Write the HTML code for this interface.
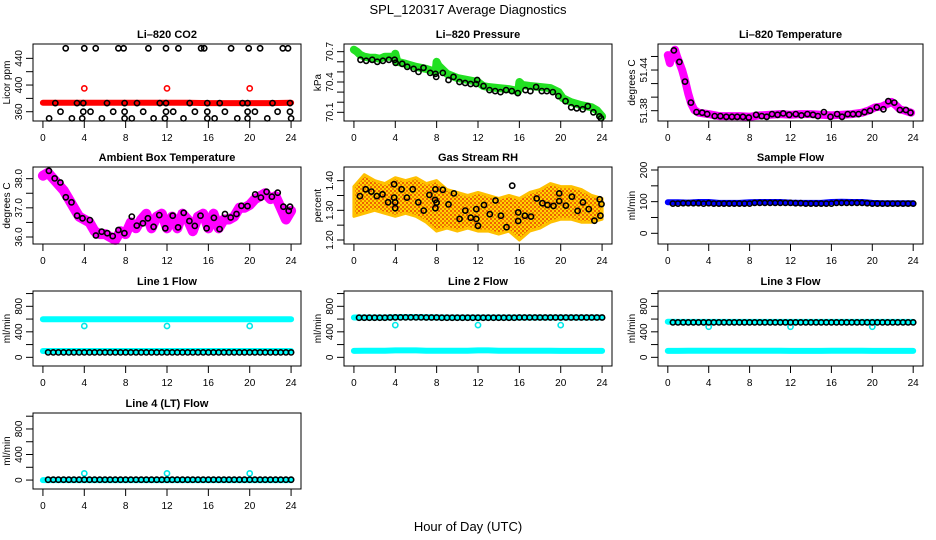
<!DOCTYPE html>
<html><head><meta charset="utf-8"><title>SPL_120317 Average Diagnostics</title>
<style>
html,body{margin:0;padding:0;background:#fff;}
svg{display:block;font-family:"Liberation Sans",sans-serif;}
</style></head>
<body>
<svg id="chart" width="936" height="540" viewBox="0 0 936 540" xmlns="http://www.w3.org/2000/svg">
<defs>
<pattern id="rhpat" width="4" height="4" patternUnits="userSpaceOnUse">
<rect width="4" height="4" fill="#ffd400"/>
<rect x="0" y="0" width="2" height="2" fill="#f08000"/>
<rect x="2" y="2" width="2" height="2" fill="#f06000"/>
</pattern>
</defs>
<text x="468" y="14" text-anchor="middle" font-size="13">SPL_120317  Average Diagnostics</text>
<text x="468" y="531" text-anchor="middle" font-size="13">Hour of Day (UTC)</text>
</svg>
<script>
// ---- data ----
const xTickVals=[0,4,8,12,16,20,24];
const halfT=[0.5,1,1.5,2,2.5,3,3.5,4,4.5,5,5.5,6,6.5,7,7.5,8,8.5,9,9.5,10,10.5,11,11.5,12,12.5,13,13.5,14,14.5,15,15.5,16,16.5,17,17.5,18,18.5,19,19.5,20,20.5,21,21.5,22,22.5,23,23.5,24];
const hourT=[0,1,2,3,4,5,6,7,8,9,10,11,12,13,14,15,16,17,18,19,20,21,22,23,24];
const outT=[4,12,20];

// CO2
const co2RedT=[0,2,4,6,8,10,12,14,16,18,20,22,24];
const co2RedV=[373.5,373.5,373.5,373.5,373.5,373.5,373.5,373.5,373,373,373,373,373.5];
const co2RedOutV=[395,395,395];
const co2BlkT=[2.2,4.0,5.1,7.3,7.8,10.2,11.9,13.1,15.3,15.6,18.2,19.9,21.0,23.2,23.7,
1.2,3.3,3.9,6.2,7.9,9.1,11.3,11.9,14.2,15.9,17.1,19.3,19.8,22.2,23.9,
1.7,3.9,4.6,6.8,7.9,9.7,11.9,12.6,14.7,15.9,17.6,19.8,20.5,22.7,23.9,
0.6,2.8,3.8,5.7,7.9,8.6,10.7,11.8,13.6,15.9,16.6,18.8,19.8,21.7,24.0];
const co2BlkV=[455,455,455,455,455,455,455,455,455,455,455,455,455,455,455,
373,373,373,373,373,373,373,373,373,373,373,373,373,373,373,
360,360,360,360,360,360,360,360,360,360,360,360,360,360,360,
350,350,350,350,350,350,350,350,350,350,350,350,350,350,350];

// Pressure
const pressT=[0,0.3,0.6,1,1.5,2,2.5,3,3.5,3.9,4.0,4.2,5,6,7,7.9,8.0,8.2,9,10,11,12,12.5,13,14,15,15.9,16.0,16.3,17,18,19,19.8,20.2,21,22,23,23.5,24];
const pressG=[70.72,70.70,70.67,70.65,70.64,70.64,70.63,70.65,70.65,70.64,70.68,70.60,70.58,70.55,70.53,70.50,70.60,70.56,70.48,70.44,70.42,70.40,70.36,70.35,70.34,70.33,70.31,70.40,70.37,70.36,70.35,70.34,70.30,70.24,70.20,70.17,70.15,70.12,70.06];
const pressBlkT=[0.64,1.19,1.77,2.26,2.80,3.38,3.93,4.03,4.67,5.15,5.77,6.25,6.73,7.38,7.89,7.96,8.60,9.15,9.63,10.21,10.76,11.28,11.82,11.92,12.53,13.11,13.66,14.18,14.72,15.27,15.85,16.59,17.07,17.62,18.17,18.65,19.23,19.78,20.46,21.01,21.55,22.13,22.62,23.16,23.74,23.90];
const pressBlkV=[70.62,70.61,70.62,70.60,70.61,70.62,70.62,70.59,70.58,70.55,70.53,70.50,70.54,70.49,70.48,70.45,70.49,70.42,70.45,70.40,70.39,70.38,70.38,70.42,70.36,70.32,70.31,70.30,70.32,70.31,70.29,70.32,70.31,70.35,70.31,70.31,70.30,70.26,70.21,70.15,70.14,70.13,70.16,70.10,70.06,70.04];

// Li-820 temperature
const tempT=[0,0.2,0.4,0.7,0.9,1.1,1.4,1.7,2.0,2.3,2.6,3,4,5,6,7,8,9,10,11,12,13,14,15,16,17,18,19,19.6,20.3,20.9,21.5,21.9,22.3,22.7,23.2,23.8];
const tempV=[51.462,51.450,51.462,51.470,51.460,51.452,51.440,51.424,51.405,51.390,51.381,51.377,51.375,51.372,51.372,51.372,51.371,51.373,51.374,51.375,51.374,51.375,51.375,51.374,51.373,51.374,51.375,51.377,51.380,51.385,51.386,51.390,51.393,51.388,51.382,51.380,51.377];
const tempBlkT=[0.6,1.13,1.68,2.26,2.81,3.36,3.85,4.59,5.14,5.72,6.27,6.79,7.34,7.92,8.64,9.18,9.67,10.19,10.74,11.29,11.87,12.52,13.07,13.65,14.2,14.68,15.27,15.91,16.56,17.04,17.59,18.11,18.66,19.24,19.79,20.44,21.09,21.57,22.15,22.7,23.29,23.74];
const tempBlkV=[51.469,51.452,51.423,51.392,51.378,51.377,51.375,51.372,51.372,51.371,51.371,51.371,51.371,51.370,51.374,51.372,51.371,51.375,51.374,51.376,51.374,51.375,51.373,51.375,51.374,51.372,51.378,51.371,51.375,51.371,51.375,51.375,51.375,51.378,51.380,51.385,51.382,51.394,51.392,51.381,51.381,51.377];

// Ambient box temperature
const ambT=[0,0.5,1,1.5,2,2.5,3,3.5,4,4.5,5,5.5,6,6.5,7,7.5,8,8.5,9,9.5,10,10.5,11,11.5,12,12.5,13,13.5,14,14.5,15,15.5,16,16.5,17,17.5,18,18.5,19,19.5,20,20.5,21,21.5,22,22.5,23,23.5,24];
const ambV=[38.1,38.2,38.0,37.8,37.6,37.3,37.0,36.7,36.6,36.5,36.2,36.1,36.1,36.0,35.9,36.2,36.1,36.5,36.3,36.6,36.8,36.3,36.7,36.8,36.3,36.7,36.3,36.8,36.6,36.2,36.7,36.8,36.3,36.8,36.3,36.6,36.6,36.7,37.0,37.0,37.1,37.3,37.4,37.5,37.3,37.4,37.0,36.6,36.9];
const ambBlkT=[0.58,1.14,1.69,2.21,2.76,3.31,3.83,4.54,5.12,5.68,6.23,6.75,7.30,7.88,8.60,9.08,9.67,10.15,10.70,11.26,11.84,12.55,13.07,13.62,14.17,14.69,15.24,15.83,16.54,17.09,17.61,18.16,18.72,19.20,19.79,20.53,21.08,21.63,22.15,22.71,23.26,23.77,23.9];
const ambBlkV=[38.27,38.01,37.87,37.36,37.19,36.73,36.64,36.58,36.05,36.18,36.13,36.03,36.24,36.13,36.70,36.39,36.47,36.64,36.35,36.75,36.30,36.73,36.33,36.83,36.55,36.38,36.73,36.30,36.66,36.27,36.79,36.67,36.79,37.07,37.06,37.46,37.35,37.55,37.38,37.52,37.04,36.90,37.04];

// Gas stream RH
const rhHi=[1.38,1.42,1.40,1.39,1.41,1.40,1.41,1.39,1.40,1.37,1.36,1.35,1.36,1.35,1.34,1.35,1.34,1.36,1.37,1.39,1.38,1.38,1.37,1.35,1.34];
const rhLo=[1.28,1.29,1.30,1.29,1.28,1.29,1.28,1.26,1.23,1.24,1.23,1.24,1.23,1.23,1.22,1.23,1.20,1.23,1.24,1.26,1.27,1.27,1.26,1.26,1.27];
const rhBlkT=[0.58,1.14,1.69,2.21,2.76,3.31,3.89,3.89,3.99,3.99,4.61,5.12,5.68,6.23,6.75,7.30,7.85,7.88,7.88,8.0,8.6,9.15,9.67,10.22,10.77,11.29,11.84,11.84,12.0,12.58,13.14,13.69,14.21,14.76,15.31,15.89,15.89,16.54,17.13,17.68,18.23,18.72,19.3,19.85,19.85,20.50,21.08,21.63,22.15,22.71,23.26,23.77,23.84,23.94];
const rhBlkV=[1.348,1.371,1.363,1.348,1.354,1.327,1.388,1.343,1.327,1.307,1.371,1.343,1.371,1.327,1.299,1.352,1.335,1.371,1.307,1.326,1.369,1.320,1.357,1.271,1.299,1.275,1.304,1.271,1.248,1.318,1.287,1.333,1.282,1.243,1.383,1.293,1.264,1.282,1.279,1.340,1.324,1.318,1.315,1.357,1.331,1.316,1.346,1.298,1.327,1.304,1.265,1.337,1.282,1.321];

// Sample flow
const sampBlue=[98,98,97,99,99,96,96,96,98,99,99,99,97,96,96,96,99,100,99,99,96,95,95,95,95];
const sampBlk=[94,94,95,95,95,95,94,95,94,94,94,94,94,94,94,94,96,96,96,96,96,96,96,96,95,95,94,94,94,94,94,94,96,96,96,96,96,96,95,94,94,94,94,94,94,94,94,94];

// Line flows
const l1CyanHi=[596,596,596,596,596,596,596,596,596,596,596,596,596,596,596,596,596,596,596,596,596,596,596,596,596];
const l1CyanLo=[99,99,99,99,99,99,99,99,99,99,99,99,99,99,99,99,99,99,99,99,99,99,99,99,99];
const l1Out=[491,491,491];
const l1Blk=[78,78,78,78,78,78,78,78,78,78,78,78,78,78,78,78,78,78,78,78,78,78,78,78,78,78,78,78,78,78,78,78,78,78,78,78,78,78,78,78,78,78,78,78,78,78,78,78];

const l2CyanHi=[625,625,625,625,628,630,630,628,626,625,625,625,625,625,624,624,624,624,624,624,624,624,624,624,624];
const l2CyanLo=[100,102,104,104,108,108,108,104,104,102,104,104,108,108,104,104,102,102,102,102,100,100,100,100,100];
const l2Out=[506,506,506];
const l2Blk=[622,622,622,622,622,622,624,626,626,626,626,626,626,624,624,624,622,622,622,622,622,622,622,622,622,622,622,622,622,622,622,624,624,624,624,624,624,624,624,624,624,624,624,624,624,624,624,624];

const l3CyanHi=[559,555,555,555,555,555,555,555,555,555,555,555,555,555,555,555,555,555,555,555,555,555,555,555,555];
const l3CyanLo=[100,100,102,102,104,104,104,102,104,104,104,104,100,100,100,100,104,104,104,104,100,100,100,100,100];
const l3Out=[480,480,480];
const l3Blk=[548,548,548,548,548,548,548,548,548,548,548,548,548,548,548,548,548,548,548,548,548,548,548,548,548,548,548,548,548,548,548,548,548,548,548,548,548,548,548,548,548,548,548,548,548,548,548,548];

const l4Cyan=[0,0,0,0,0,0,0,0,0,0,0,0,0,0,0,0,0,0,0,0,0,0,0,0,0];
const l4Out=[105,105,105];
const l4Blk=[5,5,5,5,5,5,5,5,5,5,5,5,5,5,5,5,5,5,5,5,5,5,5,5,5,5,5,5,5,5,5,5,5,5,5,5,5,5,5,5,5,5,5,5,5,5,5,5];

// ---- layout ----
const cols=[[33,301],[344,612],[658,923]];
const rows=[[44,121],[167,244],[291,366],[413,489]];
const NS='http://www.w3.org/2000/svg';
const svg=document.getElementById('chart');

function el(tag,parent){const e=document.createElementNS(NS,tag);parent.appendChild(e);return e;}

function makePanel(col,row,ymin,ymax,ticks,labels,title,ylab,name){
  const L=cols[col][0],R=cols[col][1],T=rows[row][0],B=rows[row][1];
  const sx=t=>L+(t+0.96)/25.92*(R-L);
  const sy=v=>B-(v-ymin)/(ymax-ymin)*(B-T);
  const g=el('g',svg);
  
  
  const frame=el('rect',g);
  
  
  frame.setAttribute('x',L);frame.setAttribute('y',T);frame.setAttribute('width',R-L);frame.setAttribute('height',B-T);
  frame.setAttribute('fill','none');frame.setAttribute('stroke','#000');frame.setAttribute('stroke-width','1');
  const marks=el('g',g);
  
  
  // x axis
  const xa=el('g',g);
  
  
  const xl=el('line',xa);
  xl.setAttribute('x1',sx(0));xl.setAttribute('x2',sx(24));xl.setAttribute('y1',B);xl.setAttribute('y2',B);xl.setAttribute('stroke','#000');
  xTickVals.forEach(v=>{
    const tk=el('line',xa);
    
    
    tk.setAttribute('x1',sx(v));tk.setAttribute('x2',sx(v));tk.setAttribute('y1',B);tk.setAttribute('y2',B+7);tk.setAttribute('stroke','#000');
    const tx=el('text',xa);
    
    
    tx.setAttribute('x',sx(v));tx.setAttribute('y',B+20);tx.setAttribute('text-anchor','middle');tx.setAttribute('font-size','10');
    tx.textContent=String(v);
  });
  // y axis
  const ya=el('g',g);
  
  
  const yl=el('line',ya);
  yl.setAttribute('x1',L);yl.setAttribute('x2',L);yl.setAttribute('y1',sy(ticks[0]));yl.setAttribute('y2',sy(ticks[ticks.length-1]));yl.setAttribute('stroke','#000');
  ticks.forEach(v=>{
    const tk=el('line',ya);
    
    
    tk.setAttribute('x1',L-7);tk.setAttribute('x2',L);tk.setAttribute('y1',sy(v));tk.setAttribute('y2',sy(v));tk.setAttribute('stroke','#000');
  });
  labels.forEach(v=>{
    const tx=el('text',ya);
    
    
    const x=L-11,y=sy(v);
    tx.setAttribute('x',x);tx.setAttribute('y',y);tx.setAttribute('text-anchor','middle');tx.setAttribute('font-size','10');
    tx.setAttribute('transform','rotate(-90 '+x+' '+y+')');
    tx.textContent=v;
  });
  const yt=el('text',g);
  
  
  const yx=L-23,yy=(T+B)/2;
  yt.setAttribute('x',yx);yt.setAttribute('y',yy);yt.setAttribute('text-anchor','middle');yt.setAttribute('font-size','10');
  yt.setAttribute('transform','rotate(-90 '+yx+' '+yy+')');
  yt.textContent=ylab;
  const tt=el('text',g);
  
  
  tt.setAttribute('x',(L+R)/2);tt.setAttribute('y',T-6);tt.setAttribute('text-anchor','middle');tt.setAttribute('font-size','11');tt.setAttribute('font-weight','bold');
  tt.textContent=title;
  return {sx,sy,marks};
}

function band(p,ts,vs,color,w,name){
  const pl=el('polyline',p.marks);
  
  
  pl.setAttribute('points',ts.map((t,i)=>p.sx(t).toFixed(1)+','+p.sy(vs[i]).toFixed(1)).join(' '));
  pl.setAttribute('fill','none');pl.setAttribute('stroke',color);pl.setAttribute('stroke-width',w);
  pl.setAttribute('stroke-linejoin','round');pl.setAttribute('stroke-linecap','round');
}
function pts(p,ts,vs,color,name,r,sw){
  ts.forEach((t,i)=>{
    const c=el('circle',p.marks);
    
    
    c.setAttribute('cx',p.sx(t).toFixed(1));c.setAttribute('cy',p.sy(vs[i]).toFixed(1));
    c.setAttribute('r',r||2.6);c.setAttribute('fill','none');c.setAttribute('stroke',color);c.setAttribute('stroke-width',sw||1.6);
  });
}

// CO2
let p=makePanel(0,0,346.1,461.5,[360,380,400,420,440],['360','400','440'],'Li\u2013820 CO2','Licor ppm','panel-co2');
band(p,co2RedT,co2RedV,'#ff0000',6,'co2-series-band');
pts(p,outT,co2RedOutV,'#ff0000','co2-outlier-point');
pts(p,co2BlkT,co2BlkV,'#000','co2-mean-point');

// Pressure
p=makePanel(1,0,70.014,70.776,[70.1,70.2,70.3,70.4,70.5,70.6,70.7],['70.1','70.4','70.7'],'Li\u2013820 Pressure','kPa','panel-pressure');
band(p,pressT,pressG,'#22e022',8,'pressure-series-band');
pts(p,pressBlkT,pressBlkV,'#000','pressure-mean-point');

// Temperature
p=makePanel(2,0,51.3648,51.4784,[51.38,51.40,51.42,51.44,51.46],['51.38','51.44'],'Li\u2013820 Temperature','degrees C','panel-li820-temperature');
band(p,tempT,tempV,'#ff00ff',8,'temperature-series-band');
pts(p,tempBlkT,tempBlkV,'#000','temperature-mean-point');

// Ambient
p=makePanel(0,1,35.76,38.40,[36.0,36.5,37.0,37.5,38.0],['36.0','37.0','38.0'],'Ambient Box Temperature','degrees C','panel-ambient-temperature');
band(p,ambT,ambV,'#ff00ff',10,'ambient-series-band');
pts(p,ambBlkT,ambBlkV,'#000','ambient-mean-point');

// RH
p=makePanel(1,1,1.1865,1.446,[1.20,1.25,1.30,1.35,1.40],['1.20','1.30','1.40'],'Gas Stream RH','percent','panel-gas-stream-rh');
(function(){
  const poly=el('polygon',p.marks);
  
  
  const up=hourT.map((t,i)=>p.sx(t).toFixed(1)+','+p.sy(rhHi[i]).toFixed(1));
  const lo=hourT.map((t,i)=>p.sx(t).toFixed(1)+','+p.sy(rhLo[i]).toFixed(1)).reverse();
  poly.setAttribute('points',up.concat(lo).join(' '));
  poly.setAttribute('fill','url(#rhpat)');poly.setAttribute('stroke','#ffc000');poly.setAttribute('stroke-width','3');poly.setAttribute('stroke-linejoin','round');
})();
pts(p,rhBlkT,rhBlkV,'#000','rh-mean-point');

// Sample flow
p=makePanel(2,1,-33.8,209.5,[0,50,100,150,200],['0','100','200'],'Sample Flow','ml/min','panel-sample-flow');
band(p,hourT,sampBlue,'#0000ff',6,'sample-flow-band');
pts(p,halfT,sampBlk,'#000','sample-flow-mean-point');

const fTicks=[0,200,400,600,800,1000],fLabels=['0','400','800'];
// Line 1
p=makePanel(0,2,-136,1040,fTicks,fLabels,'Line 1 Flow','ml/min','panel-line1-flow');
band(p,hourT,l1CyanHi,'#00ffff',6,'line1-upper-band');
band(p,hourT,l1CyanLo,'#00ffff',6,'line1-lower-band');
pts(p,outT,l1Out,'#00e8e8','line1-outlier-point');
pts(p,halfT,l1Blk,'#000','line1-mean-point');
// Line 2
p=makePanel(1,2,-136,1040,fTicks,fLabels,'Line 2 Flow','ml/min','panel-line2-flow');
band(p,hourT,l2CyanHi,'#00ffff',6,'line2-upper-band');
band(p,hourT,l2CyanLo,'#00ffff',6,'line2-lower-band');
pts(p,outT,l2Out,'#00e8e8','line2-outlier-point');
pts(p,halfT,l2Blk,'#000','line2-mean-point');
// Line 3
p=makePanel(2,2,-136,1040,fTicks,fLabels,'Line 3 Flow','ml/min','panel-line3-flow');
band(p,hourT,l3CyanHi,'#00ffff',6,'line3-upper-band');
band(p,hourT,l3CyanLo,'#00ffff',6,'line3-lower-band');
pts(p,outT,l3Out,'#00e8e8','line3-outlier-point');
pts(p,halfT,l3Blk,'#000','line3-mean-point');
// Line 4
p=makePanel(0,3,-140,1050,fTicks,fLabels,'Line 4 (LT) Flow','ml/min','panel-line4-flow');
band(p,hourT,l4Cyan,'#00ffff',6,'line4-band');
pts(p,outT,l4Out,'#00e8e8','line4-outlier-point');
pts(p,halfT,l4Blk,'#000','line4-mean-point');
</script>
</body></html>
